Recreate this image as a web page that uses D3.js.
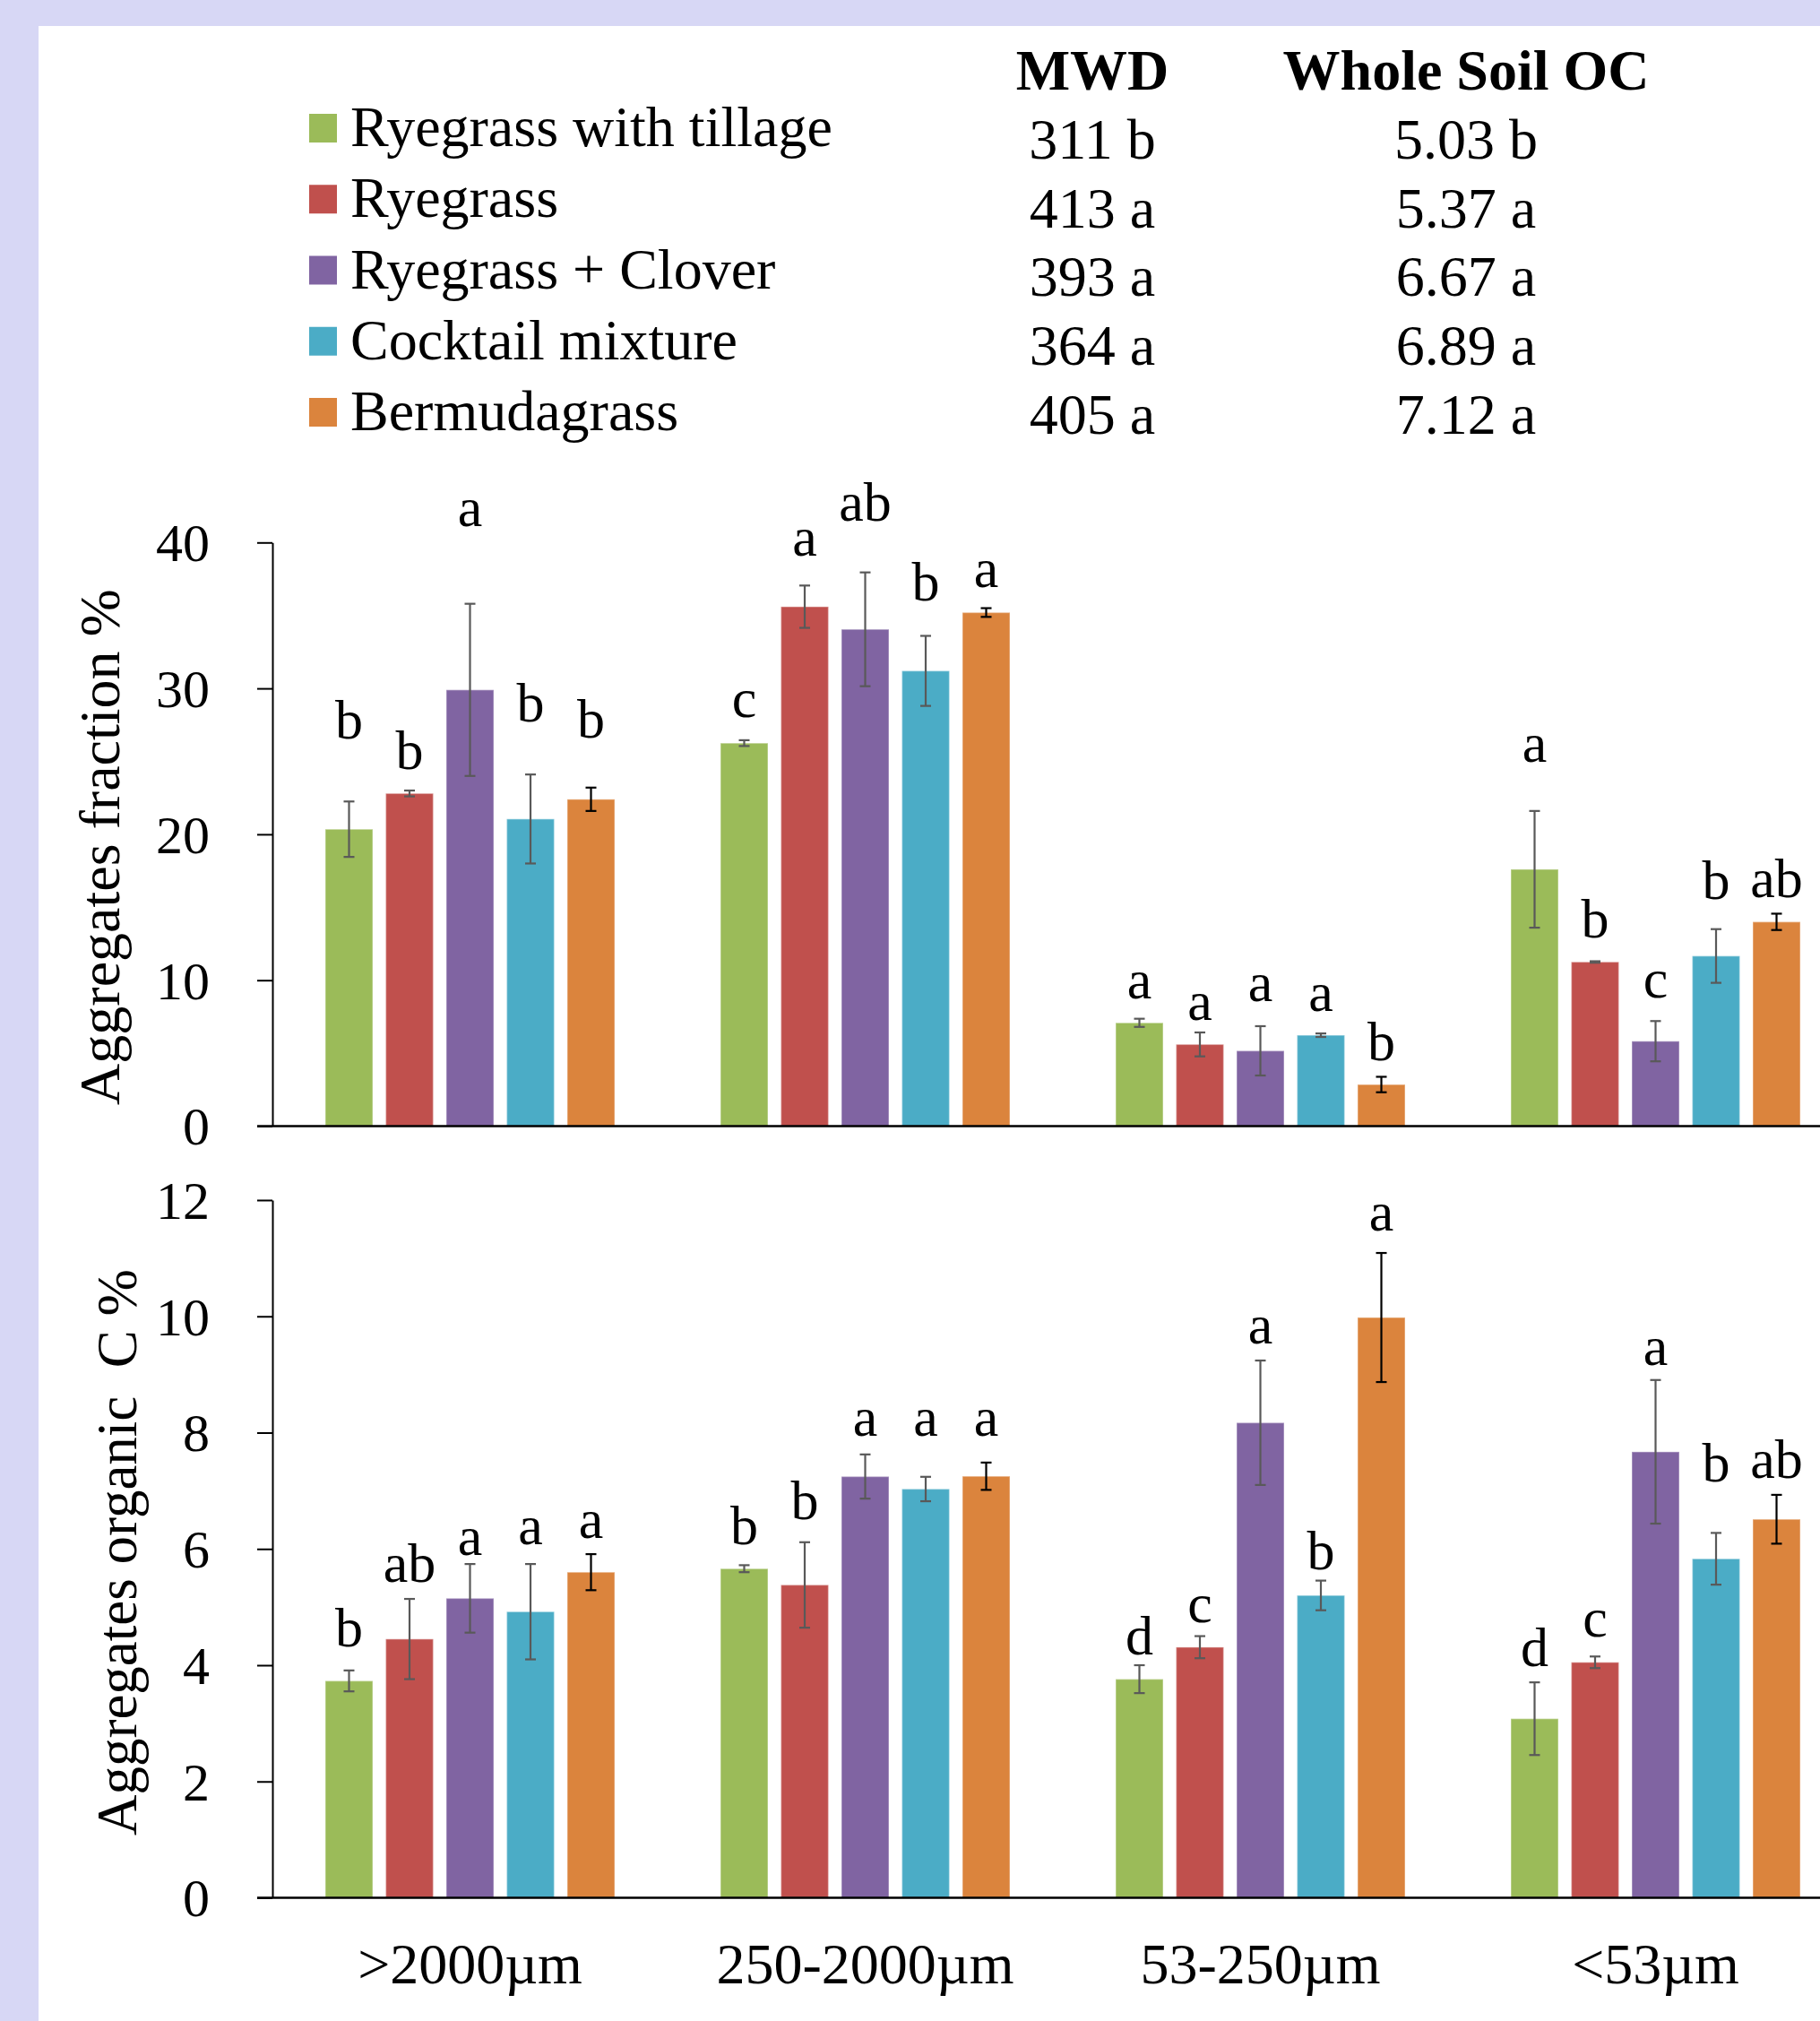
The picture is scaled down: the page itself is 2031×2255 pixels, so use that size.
<!DOCTYPE html>
<html><head><meta charset="utf-8">
<script src="https://cdn.jsdelivr.net/npm/d3@7"></script>
<style>html,body{margin:0;padding:0;background:#fff}svg{display:block}text{font-family:"Liberation Serif","Times New Roman",serif;fill:#000}</style>
</head><body>
<script>
// ---------- data ----------
const categories = [">2000\u00b5m", "250-2000\u00b5m", "53-250\u00b5m", "<53\u00b5m"];
const seriesNames = ["Ryegrass with tillage", "Ryegrass", "Ryegrass + Clover", "Cocktail mixture", "Bermudagrass"];
const seriesColors = ["#9BBB59", "#C0504D", "#8064A2", "#4BACC6", "#DB843D"];
const errColors = ["#595959", "#595959", "#595959", "#595959", "#000000"];

const mwdValues = [311, 413, 393, 364, 405];
const mwdLetters = ["b", "a", "a", "a", "a"];
const ocValues = ["5.03", "5.37", "6.67", "6.89", "7.12"];
const ocLetters = ["b", "a", "a", "a", "a"];

// Aggregates fraction % (per series, across categories)
const fracValues = [
  [20.35, 26.25, 7.08, 17.6],
  [22.8, 35.6, 5.6, 11.25],
  [29.9, 34.05, 5.16, 5.82],
  [21.05, 31.2, 6.23, 11.66],
  [22.4, 35.2, 2.85, 14.0]
];
const fracErr = [
  [1.9, 0.2, 0.28, 4.0],
  [0.2, 1.45, 0.82, 0.05],
  [5.9, 3.9, 1.69, 1.38],
  [3.05, 2.4, 0.12, 1.84],
  [0.8, 0.3, 0.53, 0.56]
];
const fracLetters = [
  ["b", "c", "a", "a"],
  ["b", "a", "a", "b"],
  ["a", "ab", "a", "c"],
  ["b", "b", "a", "b"],
  ["b", "a", "b", "ab"]
];
const fracLetterAt = [
  [26.55, 28.02, 8.77, 24.96],
  [24.49, 39.07, 7.27, 12.91],
  [41.12, 41.48, 8.59, 8.8],
  [27.75, 36.04, 7.91, 15.55],
  [26.63, 36.95, 4.53, 15.7]
];
const fracTicks = [0, 10, 20, 30, 40];

// Aggregates organic C %
const ocAggValues = [
  [3.73, 5.66, 3.76, 3.08],
  [4.45, 5.38, 4.31, 4.05],
  [5.15, 7.245, 8.17, 7.67],
  [4.92, 7.03, 5.2, 5.83],
  [5.6, 7.25, 9.98, 6.51]
];
const ocAggErr = [
  [0.18, 0.06, 0.24, 0.625],
  [0.69, 0.735, 0.19, 0.1],
  [0.59, 0.38, 1.07, 1.235],
  [0.82, 0.21, 0.255, 0.445],
  [0.31, 0.235, 1.11, 0.42]
];
const ocAggLetters = [
  ["b", "b", "d", "d"],
  ["ab", "b", "c", "c"],
  ["a", "a", "a", "a"],
  ["a", "a", "b", "b"],
  ["a", "a", "a", "ab"]
];
const ocAggLetterAt = [
  [4.33, 6.08, 4.19, 3.99],
  [5.44, 6.51, 4.74, 4.49],
  [5.89, 7.94, 9.54, 9.16],
  [6.08, 7.94, 5.65, 7.16],
  [6.19, 7.94, 11.47, 7.22]
];
const ocTicks = [0, 2, 4, 6, 8, 10, 12];

// ---------- layout ----------
const W = 2031, H = 2255;
const svg = d3.select("body").append("svg").attr("width", W).attr("height", H);
svg.append("rect").attr("width", W).attr("height", H).attr("fill", "#D7D7F5");
svg.append("rect").attr("x", 43).attr("y", 29).attr("width", W - 43).attr("height", H - 29).attr("fill", "#fff");

const axisX = 304;
const groupStep = 441;
const x0 = d3.scaleBand().domain(categories).range([axisX, axisX + groupStep * categories.length]).paddingInner(0).paddingOuter(0);
const groupW = 323;
const groupOff = (x0.bandwidth() - groupW) / 2;
const x1 = d3.scaleBand().domain(d3.range(seriesNames.length)).range([0, groupW]).paddingInner(0.215).paddingOuter(0);

// ---------- legend & table ----------
const legRow = d3.scaleLinear().domain([0, 4]).range([163, 480]);
const tabRow = d3.scaleLinear().domain([0, 4]).range([176.7, 484]);
const leg = svg.append("g");
seriesNames.forEach((n, i) => {
  leg.append("rect").attr("x", 345).attr("y", legRow(i) - 36).attr("width", 31).attr("height", 32).attr("fill", seriesColors[i]);
  leg.append("text").attr("x", 391).attr("y", legRow(i)).attr("font-size", 64).text(n);
  leg.append("text").attr("x", 1219).attr("y", tabRow(i)).attr("font-size", 64).attr("text-anchor", "middle").text(mwdValues[i] + " " + mwdLetters[i]);
  leg.append("text").attr("x", 1636).attr("y", tabRow(i)).attr("font-size", 64).attr("text-anchor", "middle").text(ocValues[i] + " " + ocLetters[i]);
});
leg.append("text").attr("x", 1219).attr("y", 100).attr("font-size", 64).attr("font-weight", "bold").attr("text-anchor", "middle").text("MWD");
leg.append("text").attr("x", 1636).attr("y", 100).attr("font-size", 64).attr("font-weight", "bold").attr("text-anchor", "middle").text("Whole Soil OC");

// ---------- panel ----------
function panel(y, ticks, vals, errs, letters, letterAt, title, titleX, titleY, titleSize, showCats) {
  const g = svg.append("g");
  const ax = d3.axisLeft(y).tickValues(ticks).tickSize(17).tickSizeOuter(0).tickPadding(53).tickFormat(d3.format("d"));
  const ag = g.append("g").attr("transform", `translate(${axisX},0)`).call(ax);
  ag.select(".domain").attr("stroke", "#000").attr("stroke-width", 2);
  ag.selectAll(".tick line").attr("stroke", "#000").attr("stroke-width", 2);
  ag.selectAll(".tick text").attr("font-size", 60).attr("font-family", '"Liberation Serif", serif').attr("fill", "#000").attr("dy", "0.34em");

  vals.forEach((row, s) => {
    row.forEach((v, c) => {
      const bx = x0(categories[c]) + groupOff + x1(s);
      const bw = x1.bandwidth();
      g.append("rect").attr("x", bx).attr("y", y(v)).attr("width", bw).attr("height", y(0) - y(v))
        .attr("fill", seriesColors[s]).attr("stroke", "rgba(255,255,255,0.35)").attr("stroke-width", 1.5);
      const cx = bx + bw / 2, e = errs[s][c];
      const eg = g.append("g").attr("stroke", errColors[s]).attr("stroke-width", 2.2);
      eg.append("line").attr("x1", cx).attr("x2", cx).attr("y1", y(v + e)).attr("y2", y(v - e));
      eg.append("line").attr("x1", cx - 6).attr("x2", cx + 6).attr("y1", y(v + e)).attr("y2", y(v + e));
      eg.append("line").attr("x1", cx - 6).attr("x2", cx + 6).attr("y1", y(v - e)).attr("y2", y(v - e));
      g.append("text").attr("x", cx).attr("y", y(letterAt[s][c])).attr("text-anchor", "middle").attr("font-size", 62).text(letters[s][c]);
    });
  });

  g.append("line").attr("x1", axisX - 17).attr("x2", W).attr("y1", y(0)).attr("y2", y(0)).attr("stroke", "#000").attr("stroke-width", 2.5);

  if (showCats) {
    const xa = d3.axisBottom(x0).tickSize(0).tickPadding(50);
    const xg = g.append("g").attr("transform", `translate(0,${y(0)})`).call(xa);
    xg.select(".domain").remove();
    xg.selectAll(".tick text").attr("font-size", 64).attr("font-family", '"Liberation Serif", serif').attr("fill", "#000");
  }

  g.append("text").attr("transform", `translate(${titleX},${titleY}) rotate(-90)`).attr("text-anchor", "middle")
    .attr("font-size", titleSize).style("white-space", "pre").text(title);
}

const yTop = d3.scaleLinear().domain([0, 40]).range([1256.5, 605.3]);
const yBot = d3.scaleLinear().domain([0, 12]).range([2117.5, 1339]);

panel(yTop, fracTicks, fracValues, fracErr, fracLetters, fracLetterAt, "Aggregates fraction %", 133, 945, 64, false);
panel(yBot, ocTicks, ocAggValues, ocAggErr, ocAggLetters, ocAggLetterAt, "Aggregates organic  C %", 152, 1732, 63, true);
</script>
</body></html>
